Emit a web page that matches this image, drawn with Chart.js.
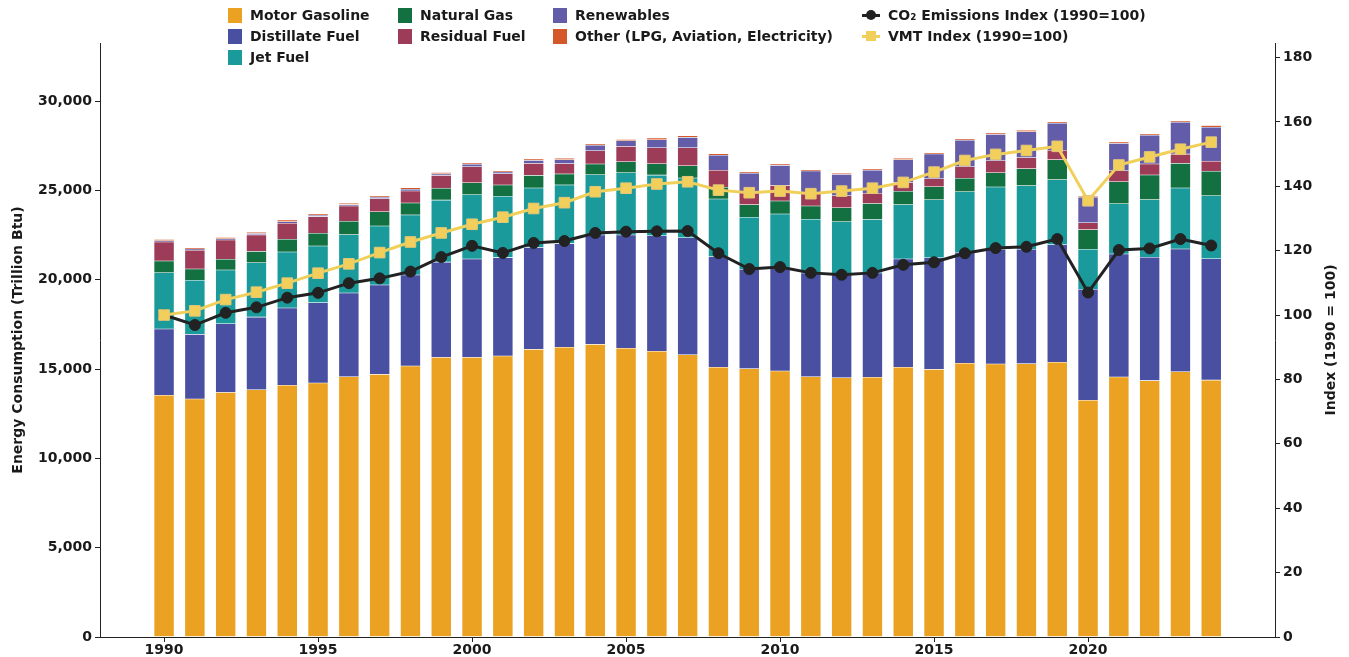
<!DOCTYPE html>
<html>
<head>
<meta charset="utf-8">
<script src="https://cdn.jsdelivr.net/npm/chart.js@4.4.1/dist/chart.umd.min.js"></script>
<style>
  html, body { margin: 0; padding: 0; background: #ffffff; }
  #wrap { position: relative; width: 1349px; height: 657px; }
  #c { position: absolute; left: 0; top: 0; }
  #legend { position: absolute; left: 0; top: 0; width: 1349px; height: 70px; pointer-events: none;
            font-family: "DejaVu Sans", sans-serif; font-weight: bold; font-size: 14px; color: #1a1a1a; }
  .li { position: absolute; height: 20px; line-height: 20px; white-space: nowrap; }
  .sw { position: absolute; top: 3px; width: 14px; height: 15px; }
  .ln { position: absolute; top: 9px; width: 18px; height: 3px; }
  .mk { position: absolute; }
</style>
</head>
<body>
<div id="wrap">
  <canvas id="c" width="1349" height="657"></canvas>
  <div id="legend"></div>
</div>
<script>
// ---------------- DATA ----------------
const years = [1990,1991,1992,1993,1994,1995,1996,1997,1998,1999,
               2000,2001,2002,2003,2004,2005,2006,2007,2008,2009,
               2010,2011,2012,2013,2014,2015,2016,2017,2018,2019,
               2020,2021,2022,2023,2024];

const motorGasoline = [13530,13320,13690,13840,14090,14220,14570,14700,15170,15650,
                       15650,15730,16100,16220,16380,16160,15990,15800,15100,15020,
                       14890,14570,14510,14540,15100,14980,15320,15280,15300,15380,
                       13250,14550,14350,14850,14380];
const distillateFuel = [3710,3620,3845,4065,4325,4495,4685,5000,5095,5335,
                        5505,5505,5710,5800,6120,6340,6470,6550,6190,5565,
                        5725,5805,5765,5840,6060,6250,6215,6420,6405,6580,
                        6215,6885,6905,6865,6790];
const jetFuel = [3150,3025,3005,3040,3135,3170,3265,3305,3360,3470,
                 3600,3435,3320,3285,3375,3485,3395,3340,3230,2910,
                 3060,3005,2970,2985,3040,3245,3390,3485,3560,3640,
                 2240,2815,3225,3415,3525];
const naturalGas = [655,635,600,635,710,710,750,800,670,670,
                    670,630,710,615,600,615,635,690,655,705,
                    725,745,780,895,750,725,750,800,950,1120,
                    1095,1230,1380,1380,1380];
const residualFuel = [1065,1045,1080,930,895,935,860,730,670,710,
                      895,635,670,575,745,860,895,1005,950,670,
                      880,690,670,580,480,450,650,670,615,525,
                      390,615,615,520,560];
const renewables = [72,74,73,75,92,75,72,77,95,90,
                    150,95,168,224,302,314,448,582,840,1085,
                    1120,1270,1197,1287,1288,1383,1477,1478,1456,1511,
                    1420,1533,1606,1791,1903];
const otherFuels = [75,75,75,75,94,75,78,75,90,76,
                    75,75,75,78,75,78,95,90,89,75,
                    75,75,75,75,78,75,75,75,78,75,
                    60,75,75,75,94];

const co2Index = [100,96.9,100.7,102.4,105.4,106.9,109.9,111.4,113.5,118.0,
                  121.5,119.3,122.4,123.0,125.5,125.9,126.0,126.1,119.2,114.3,
                  114.9,113.1,112.5,113.1,115.6,116.4,119.2,120.8,121.2,123.6,
                  107.0,120.2,120.7,123.6,121.6];
const vmtIndex = [100,101.3,104.8,107.1,109.9,113.0,115.9,119.4,122.7,125.5,
                  128.2,130.4,133.1,134.9,138.3,139.4,140.7,141.4,138.8,138.0,
                  138.5,137.7,138.5,139.4,141.2,144.4,148.0,149.9,151.1,152.4,
                  135.5,146.6,149.1,151.5,153.7];

const xTicks = [1990,1995,2000,2005,2010,2015,2020];
const leftTicks = [0,5000,10000,15000,20000,25000,30000];
const rightTicks = [0,20,40,60,80,100,120,140,160,180];

const barLabels = ['Motor Gasoline','Distillate Fuel','Jet Fuel','Natural Gas','Residual Fuel','Renewables','Other (LPG, Aviation, Electricity)'];
const barSeries = [motorGasoline, distillateFuel, jetFuel, naturalGas, residualFuel, renewables, otherFuels];
const barColors = ['#EBA122','#4A50A1','#1A9A9A','#137040','#9C3C58','#625CA9','#D4572A'];
const rightTitle = 'Index (1990 = 100)';

// ---------------- CHART ----------------
const FONT = 'DejaVu Sans';
const TXT = '#1a1a1a';
const AX = '#222222';

const toXY = arr => arr.map((v, i) => ({ x: years[i], y: v }));

const datasets = [];
barSeries.forEach((s, i) => {
  datasets.push({
    type: 'bar',
    label: barLabels[i],
    data: toXY(s),
    backgroundColor: barColors[i],
    borderColor: 'rgba(255,255,255,0.55)',
    borderWidth: 0.6,
    borderSkipped: false,
    barThickness: 20,
    yAxisID: 'y',
    xAxisID: 'x',
    stack: 'energy',
    order: 2
  });
});
datasets.push({
  type: 'line',
  label: 'CO\u2082 Emissions Index (1990=100)',
  data: toXY(co2Index),
  borderColor: '#222222',
  backgroundColor: '#222222',
  borderWidth: 3,
  pointStyle: 'circle',
  pointRadius: 5.5,
  pointBorderWidth: 1,
  pointBorderColor: '#222222',
  pointBackgroundColor: '#222222',
  tension: 0,
  yAxisID: 'y2',
  xAxisID: 'x',
  order: 1
});
datasets.push({
  type: 'line',
  label: 'VMT Index (1990=100)',
  data: toXY(vmtIndex),
  borderColor: '#F0D05A',
  backgroundColor: '#F2CF5B',
  borderWidth: 3,
  pointStyle: 'rect',
  pointRadius: 7.5,
  pointBorderWidth: 1,
  pointBorderColor: '#E3C77A',
  pointBackgroundColor: '#F2CF5B',
  tension: 0,
  yAxisID: 'y2',
  xAxisID: 'x',
  order: 0
});

const tickFont = { family: FONT, size: 14, weight: 'bold' };

// right-axis title reading bottom-to-top (like matplotlib's twin axis label)
const rightTitlePlugin = {
  id: 'rightTitle',
  afterDraw(chart) {
    const ctx = chart.ctx;
    const ca = chart.chartArea;
    ctx.save();
    ctx.translate(1331, (ca.top + ca.bottom) / 2);
    ctx.rotate(-Math.PI / 2);
    ctx.font = 'bold 14px "' + FONT + '"';
    ctx.fillStyle = TXT;
    ctx.textAlign = 'center';
    ctx.textBaseline = 'middle';
    ctx.fillText(rightTitle, 0, 0);
    ctx.restore();
  }
};

const chart = new Chart(document.getElementById('c'), {
  type: 'bar',
  data: { datasets },
  plugins: [rightTitlePlugin],
  options: {
    responsive: false,
    animation: false,
    maintainAspectRatio: false,
    layout: { padding: { top: 43, left: 0, right: 0, bottom: 0 } },
    plugins: { legend: { display: false }, tooltip: { enabled: false } },
    scales: {
      x: {
        type: 'linear',
        position: 'bottom',
        min: 1987.92,
        max: 2026.07,
        stacked: true,
        offset: false,
        grid: { display: true, drawOnChartArea: false, drawTicks: true, tickLength: 5, color: AX, offset: false },
        border: { display: true, color: AX, width: 1 },
        ticks: { color: TXT, font: tickFont, padding: 0, maxRotation: 0, autoSkip: false,
                 callback: v => String(v) },
        afterBuildTicks: s => { s.ticks = xTicks.map(v => ({ value: v })); },
        afterFit: s => { s.height = 20; }
      },
      y: {
        type: 'linear',
        position: 'left',
        min: 0,
        max: 33250,
        stacked: true,
        grid: { display: true, drawOnChartArea: false, drawTicks: true, tickLength: 5, color: AX },
        border: { display: true, color: AX, width: 1 },
        ticks: { color: TXT, font: tickFont, padding: 3,
                 callback: v => Number(v).toLocaleString('en-US') },
        afterBuildTicks: s => { s.ticks = leftTicks.map(v => ({ value: v })); },
        afterFit: s => { s.width = 100; },
        title: { display: true, text: 'Energy Consumption (Trillion Btu)', color: TXT,
                 font: { family: FONT, size: 14, weight: 'bold' }, padding: { top: 10, bottom: 0 } }
      },
      y2: {
        type: 'linear',
        position: 'right',
        min: 0,
        max: 184.5,
        stacked: false,
        grid: { display: true, drawOnChartArea: false, drawTicks: true, tickLength: 5, color: AX },
        border: { display: true, color: AX, width: 1 },
        ticks: { color: TXT, font: tickFont, padding: 3, callback: v => String(v) },
        afterBuildTicks: s => { s.ticks = rightTicks.map(v => ({ value: v })); },
        afterFit: s => { s.width = 74; },
        title: { display: false }
      }
    }
  }
});

// ---------------- HTML LEGEND (matplotlib-style, column-major, 4 columns) ----------------
const legendCols = [
  { x: 228, items: [0, 1, 2] },
  { x: 398, items: [3, 4] },
  { x: 553, items: [5, 6] },
  { x: 862, items: [7, 8] }
];
const rowTop = [5, 26, 47];
const legendEl = document.getElementById('legend');
legendCols.forEach(col => {
  col.items.forEach((di, r) => {
    const ds = chart.data.datasets[di];
    const item = document.createElement('div');
    item.className = 'li';
    item.style.left = col.x + 'px';
    item.style.top = rowTop[r] + 'px';
    if (ds.type === 'bar') {
      const sw = document.createElement('div');
      sw.className = 'sw';
      sw.style.left = '0px';
      sw.style.background = ds.backgroundColor;
      item.appendChild(sw);
      const t = document.createElement('span');
      t.textContent = ds.label;
      t.style.marginLeft = '22px';
      item.appendChild(t);
    } else {
      const ln = document.createElement('div');
      ln.className = 'ln';
      ln.style.left = '0px';
      ln.style.background = ds.borderColor;
      item.appendChild(ln);
      const mk = document.createElement('div');
      mk.className = 'mk';
      mk.style.left = '4px'; mk.style.top = '5px';
      mk.style.width = '10px'; mk.style.height = '10px';
      if (ds.pointStyle === 'circle') mk.style.borderRadius = '50%';
      mk.style.background = ds.pointBackgroundColor;
      item.appendChild(mk);
      const t = document.createElement('span');
      t.textContent = ds.label;
      t.style.marginLeft = '26px';
      item.appendChild(t);
    }
    legendEl.appendChild(item);
  });
});
</script>
</body>
</html>
